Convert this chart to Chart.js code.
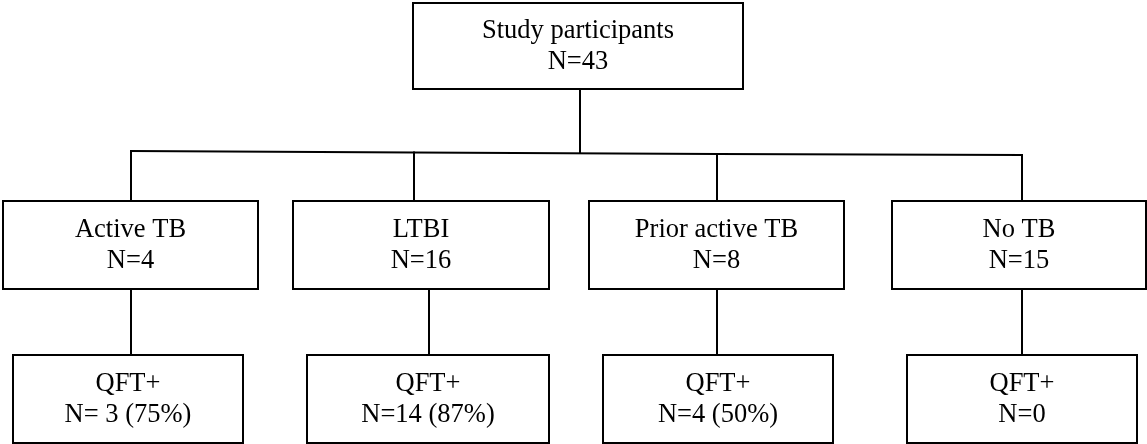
<!DOCTYPE html>
<html>
<head>
<meta charset="utf-8">
<script src="https://cdn.jsdelivr.net/npm/chart.js@4/dist/chart.umd.min.js"></script>
<style>
    html, body { margin: 0; padding: 0; background: #fff; overflow: hidden; }
    #fluxo { display: block; }
</style>
</head>
<body>
<canvas id="fluxo" width="1147" height="444"></canvas>
<script>
// Study data
const totalLabel  = 'Study participants';
const totalN      = 43;
const groups      = ['Active TB', 'LTBI', 'Prior active TB', 'No TB'];
const groupN      = [4, 16, 8, 15];
const qftLabel    = 'QFT+';
const qftText     = ['N= 3 (75%)', 'N=14 (87%)', 'N=4 (50%)', 'N=0'];

// Layout (chart units = pixels, y grows downwards)
const topBox      = { l: 413, r: 743, t: 3, b: 89 };
const midRow      = { t: 201, b: 289 };
const lowRow      = { t: 355, b: 443 };
const midLeft     = [3, 293, 589, 892];
const midRight    = [258, 549, 844, 1146];
const lowLeft     = [13, 307, 603, 907];
const lowRight    = [243, 549, 833, 1137];
const branchX     = [131, 414, 717, 1022];
const branchY     = [151, 152.5, 154, 155];
const downX       = [131, 429, 717, 1022];
const stemX       = 580;

function caixa(l, r, t, b) {
    return [{x: l, y: t}, {x: r, y: t}, {x: r, y: b}, {x: l, y: b}, {x: l, y: t}];
}

function linha(pontos) {
    return {
        data: pontos,
        showLine: true,
        pointRadius: 0,
        borderColor: '#000',
        borderWidth: 2,
        borderJoinStyle: 'miter',
        borderCapStyle: 'square',
        fill: false,
        tension: 0
    };
}

const datasets = [];
datasets.push(linha(caixa(topBox.l, topBox.r, topBox.t, topBox.b)));
datasets.push(linha([{x: stemX, y: topBox.b}, {x: stemX, y: 153}]));
datasets.push(linha(branchX.map((x, i) => ({x, y: branchY[i]}))));
groups.forEach((g, i) => {
    datasets.push(linha([{x: branchX[i], y: branchY[i]}, {x: branchX[i], y: midRow.t}]));
    datasets.push(linha(caixa(midLeft[i], midRight[i], midRow.t, midRow.b)));
    datasets.push(linha([{x: downX[i], y: midRow.b}, {x: downX[i], y: lowRow.t}]));
    datasets.push(linha(caixa(lowLeft[i], lowRight[i], lowRow.t, lowRow.b)));
});

// Draws the two text lines of each box
const textos = {
    id: 'textos',
    afterDatasetsDraw(chart) {
        const { ctx, scales: { x, y } } = chart;
        ctx.save();
        ctx.fillStyle = '#000';
        ctx.font = '26.5px "Liberation Serif", "Times New Roman", serif';
        ctx.textAlign = 'center';
        ctx.textBaseline = 'alphabetic';

        function escreve(l, r, t, b, linha1, linha2) {
            const cx = x.getPixelForValue((l + r) / 2);
            const cy = y.getPixelForValue((t + b) / 2);
            ctx.fillText(linha1, cx, cy - 8.5);
            ctx.fillText(linha2, cx, cy + 22.5);
        }

        escreve(topBox.l, topBox.r, topBox.t, topBox.b, totalLabel, `N=${totalN}`);
        groups.forEach((g, i) => {
            escreve(midLeft[i], midRight[i], midRow.t, midRow.b, g, `N=${groupN[i]}`);
            escreve(lowLeft[i], lowRight[i], lowRow.t, lowRow.b, qftLabel, qftText[i]);
        });
        ctx.restore();
    }
};

new Chart(document.getElementById('fluxo'), {
    type: 'scatter',
    data: { datasets },
    options: {
        responsive: false,
        animation: false,
        layout: { padding: 0 },
        scales: {
            x: { type: 'linear', min: 0, max: 1147, display: false },
            y: { type: 'linear', min: 0, max: 444, reverse: true, display: false }
        },
        plugins: {
            legend: { display: false },
            tooltip: { enabled: false }
        }
    },
    plugins: [textos]
});
</script>
</body>
</html>
